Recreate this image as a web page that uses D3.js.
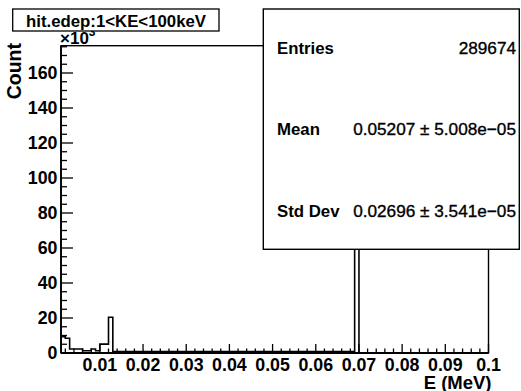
<!DOCTYPE html>
<html>
<head>
<meta charset="utf-8">
<script src="https://cdn.jsdelivr.net/npm/d3@7"></script>
<style>
  html, body { margin: 0; padding: 0; background: #fff; }
  svg { display: block; font-family: "Liberation Sans", Arial, Helvetica, sans-serif; }
</style>
</head>
<body>
<svg id="chart" width="521" height="391"></svg>
<script>
// ---- data (counts in units of 10^3) ----
const binStart = 0.001;   // MeV, lower edge of first bin
const binWidth = 0.001;   // MeV
const counts = [
  9.3, 8.4, 2.3, 2.3, 2.3, 1.3, 1.3, 2.3, 1.3, 5.1,
  5.1, 20.4, 0.9, 0.9, 0.9, 0.9, 0.9, 0.9, 0.9, 0.9,
  0.9, 0.9, 0.9, 0.9, 0.9, 0.9, 0.9, 0.9, 0.9, 0.9,
  0.9, 0.9, 0.9, 0.9, 0.9, 0.9, 0.9, 0.9, 0.9, 0.9,
  0.9, 0.9, 0.9, 0.9, 0.9, 0.9, 0.9, 0.9, 0.9, 0.9,
  0.9, 0.9, 0.9, 0.9, 0.9, 0.9, 0.9, 0.9, 0.9, 0.9,
  0.9, 0.9, 0.9, 0.9, 0.9, 0.9, 0.9, 0.9, 167.2, 0,
  0, 0, 0, 0, 0, 0, 0, 0, 0, 0,
  0, 0, 0, 0, 0, 0, 0, 0, 0, 0,
  0, 0, 0, 0, 0, 0, 0, 0, 0
];
const xDomain = [0.001, 0.1];
const yDomain = [0, 175.6];
const xMajorTicks = [0.01, 0.02, 0.03, 0.04, 0.05, 0.06, 0.07, 0.08, 0.09, 0.1];
const xTickLabels = ["0.01", "0.02", "0.03", "0.04", "0.05", "0.06", "0.07", "0.08", "0.09", "0.1"];
const xMinorTicks = [0.002,0.004,0.006,0.008,0.012,0.014,0.016,0.018,0.022,0.024,0.026,0.028,
  0.032,0.034,0.036,0.038,0.042,0.044,0.046,0.048,0.052,0.054,0.056,0.058,0.062,0.064,0.066,0.068,
  0.072,0.074,0.076,0.078,0.082,0.084,0.086,0.088,0.092,0.094,0.096,0.098];
const yMajorTicks = [0, 20, 40, 60, 80, 100, 120, 140, 160];
const yMinorTicks = [5,10,15,25,30,35,45,50,55,65,70,75,85,90,95,105,110,115,125,130,135,145,150,155,165,170,175];
const titleText = "hit.edep:1<KE<100keV";
const xTitle = "E (MeV)";
const yTitle = "Count";
const statsLabels = ["Entries", "Mean", "Std Dev"];
const statsValues = ["289674", "0.05207 \u00B1 5.008e\u221205", "0.02696 \u00B1 3.541e\u221205"];

// ---- layout ----
const L = 61, R = 488.5, T = 45.7, B = 353;
const svg = d3.select("#chart");
const x = d3.scaleLinear().domain(xDomain).range([L, R]);
const y = d3.scaleLinear().domain(yDomain).range([B, T]);

svg.append("defs").append("clipPath").attr("id", "frameClip")
  .append("rect").attr("x", L).attr("y", T).attr("width", R - L).attr("height", B - T);

// histogram outline
const pts = counts.map((v, i) => [binStart + i * binWidth, v]);
pts.push([binStart + counts.length * binWidth, counts[counts.length - 1]]);
const outline = [[pts[0][0], 0], ...pts, [pts[pts.length - 1][0], 0]];
const line = d3.line().x(d => x(d[0])).y(d => y(d[1])).curve(d3.curveStepAfter);
svg.append("path")
  .attr("d", line(outline))
  .attr("fill", "none").attr("stroke", "#000").attr("stroke-width", 1.6)
  .attr("clip-path", "url(#frameClip)");

// frame
svg.append("rect").attr("x", L).attr("y", T).attr("width", R - L).attr("height", B - T)
  .attr("fill", "none").attr("stroke", "#000").attr("stroke-width", 1.4);
svg.append("line").attr("x1", L).attr("x2", R).attr("y1", B).attr("y2", B)
  .attr("stroke", "#000").attr("stroke-width", 2.2);
svg.append("line").attr("x1", L).attr("x2", L).attr("y1", T).attr("y2", B)
  .attr("stroke", "#000").attr("stroke-width", 1.8);

// x axis ticks & labels
const xAxis = svg.append("g");
xAxis.selectAll("line.maj").data(xMajorTicks).enter().append("line")
  .attr("x1", d => x(d)).attr("x2", d => x(d)).attr("y1", B).attr("y2", B - 9)
  .attr("stroke", "#000").attr("stroke-width", 1.3);
xAxis.selectAll("line.min").data(xMinorTicks).enter().append("line")
  .attr("x1", d => x(d)).attr("x2", d => x(d)).attr("y1", B).attr("y2", B - 4.5)
  .attr("stroke", "#000").attr("stroke-width", 1.3);
xAxis.selectAll("text").data(xMajorTicks).enter().append("text")
  .attr("x", d => x(d)).attr("y", 370.5).attr("text-anchor", "middle")
  .attr("font-size", 17.8).attr("font-weight", "bold")
  .text((d, i) => xTickLabels[i]);

// y axis ticks & labels
const yAxis = svg.append("g");
yAxis.selectAll("line.maj").data(yMajorTicks).enter().append("line")
  .attr("x1", L).attr("x2", L + 12).attr("y1", d => y(d)).attr("y2", d => y(d))
  .attr("stroke", "#000").attr("stroke-width", 1.3);
yAxis.selectAll("line.min").data(yMinorTicks).enter().append("line")
  .attr("x1", L).attr("x2", L + 6).attr("y1", d => y(d)).attr("y2", d => y(d))
  .attr("stroke", "#000").attr("stroke-width", 1.3);
yAxis.selectAll("text").data(yMajorTicks).enter().append("text")
  .attr("x", 57.5).attr("y", d => y(d) + 6.3).attr("text-anchor", "end")
  .attr("font-size", 17.8).attr("font-weight", "bold")
  .text(d => d);

// exponent label
const expo = svg.append("text").attr("x", 60).attr("y", 44)
  .attr("font-size", 17).attr("font-weight", "bold");
expo.append("tspan").text("\u00D710");
expo.append("tspan").attr("dy", -8).attr("font-size", 12).text("3");

// axis titles
svg.append("text").attr("x", R + 3).attr("y", 388.5).attr("text-anchor", "end")
  .attr("font-size", 18.5).attr("font-weight", "bold").text(xTitle);
svg.append("text").attr("transform", "translate(21,43) rotate(-90)")
  .attr("text-anchor", "end").attr("font-size", 19.5).attr("font-weight", "bold").text(yTitle);

// title box
svg.append("rect").attr("x", 12.7).attr("y", 9).attr("width", 206.3).attr("height", 22)
  .attr("fill", "#fff").attr("stroke", "#000").attr("stroke-width", 1.3);
svg.append("text").attr("x", 116).attr("y", 26.5).attr("text-anchor", "middle")
  .attr("font-size", 16.8).attr("font-weight", "bold").text(titleText);

// stats box
svg.append("rect").attr("x", 263.3).attr("y", 9).attr("width", 256).attr("height", 240.3)
  .attr("fill", "#fff").attr("stroke", "#000").attr("stroke-width", 1.4);
const rowY = [54, 135, 216.7];
svg.selectAll("text.slab").data(statsLabels).enter().append("text")
  .attr("class", "slab").attr("x", 277).attr("y", (d, i) => rowY[i])
  .attr("font-size", 16.8).attr("font-weight", "bold").text(d => d);
svg.selectAll("text.sval").data(statsValues).enter().append("text")
  .attr("class", "sval").attr("x", 516).attr("y", (d, i) => rowY[i]).attr("text-anchor", "end")
  .attr("font-size", 17.2).attr("font-weight", "normal")
  .attr("stroke", "#000").attr("stroke-width", 0.35).text(d => d);
</script>
</body>
</html>
